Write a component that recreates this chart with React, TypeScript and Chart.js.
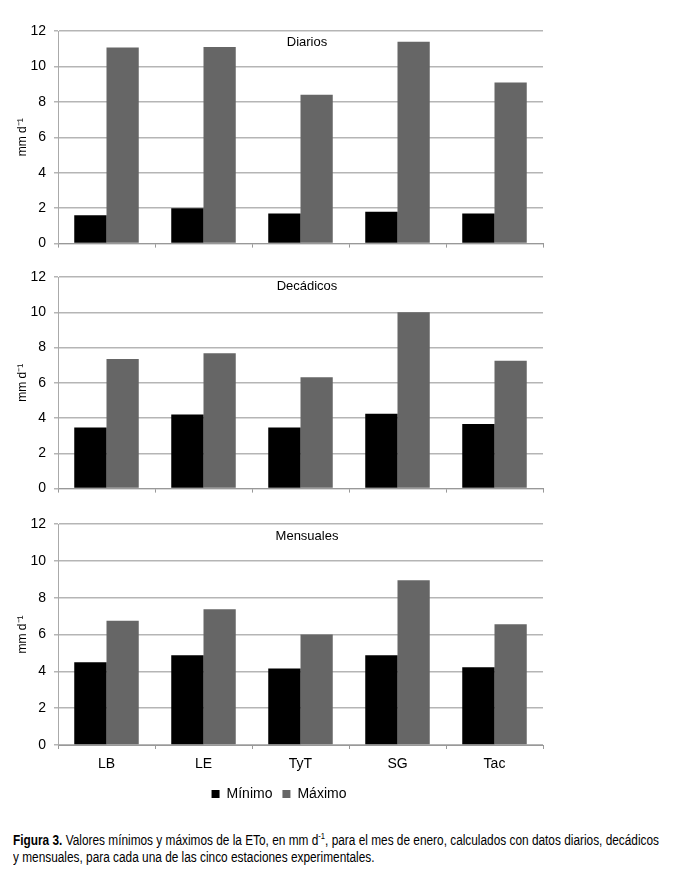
import React, { useEffect, useLayoutEffect, useRef } from 'react';
import { Chart, registerables } from 'chart.js';

Chart.register(...registerables);

const stations = ['LB', 'LE', 'TyT', 'SG', 'Tac'];
const yTickValues = [0, 2, 4, 6, 8, 10, 12];
const seriesNames = ['Mínimo', 'Máximo'];
const seriesColors = ['#000000', '#666666'];

const diariosMin = [1.6, 2.0, 1.7, 1.8, 1.7];
const diariosMax = [11.07, 11.1, 8.4, 11.4, 9.1];
const decadicosMin = [3.47, 4.2, 3.47, 4.25, 3.66];
const decadicosMax = [7.35, 7.68, 6.32, 10.0, 7.25];
const mensualesMin = [4.5, 4.87, 4.15, 4.87, 4.22];
const mensualesMax = [6.75, 7.37, 6.0, 8.95, 6.55];

const panelTitles = ['Diarios', 'Decádicos', 'Mensuales'];

const FONT = "'Liberation Sans', Arial, sans-serif";

const panelTitlePlugin = {
  id: 'panelTitle',
  afterDatasetsDraw(chart: any, _args: any, opts: any) {
    const { ctx, chartArea } = chart;
    ctx.save();
    ctx.font = `13px ${FONT}`;
    ctx.fillStyle = '#000';
    ctx.textAlign = 'center';
    ctx.textBaseline = 'middle';
    ctx.fillText(opts.text, (chartArea.left + chartArea.right) / 2 + 6.5, chartArea.top + opts.dy);
    ctx.restore();
  },
};

type PanelProps = {
  title: string;
  minData: number[];
  maxData: number[];
  top: number;
  height: number;
  padTop: number;
  titleDy: number;
  bottomPanel: boolean;
};

function Panel({ title, minData, maxData, top, height, padTop, titleDy, bottomPanel }: PanelProps) {
  const ref = useRef<HTMLCanvasElement | null>(null);
  useEffect(() => {
    if (!ref.current) return;
    const chart = new Chart(ref.current, {
      type: 'bar',
      data: {
        labels: stations,
        datasets: [
          {
            label: seriesNames[0],
            data: minData,
            backgroundColor: seriesColors[0],
            borderWidth: 0,
            categoryPercentage: 0.665,
            barPercentage: 1,
          },
          {
            label: seriesNames[1],
            data: maxData,
            backgroundColor: seriesColors[1],
            borderWidth: 0,
            categoryPercentage: 0.665,
            barPercentage: 1,
          },
        ],
      },
      options: {
        animation: false,
        responsive: false,
        devicePixelRatio: 1,
        layout: { padding: { left: 15, right: 140, top: padTop, bottom: 0 } },
        plugins: {
          legend: {
            display: bottomPanel,
            position: 'bottom',
            labels: {
              boxWidth: 8,
              boxHeight: 8,
              color: '#000',
              padding: 10,
              font: { family: FONT, size: 14 },
            },
          },
          tooltip: { enabled: false },
          panelTitle: { text: title, dy: titleDy },
        } as any,
        scales: {
          x: {
            grid: {
              display: true,
              drawOnChartArea: false,
              drawTicks: true,
              tickLength: 4,
              color: '#999999',
              offset: true,
            },
            border: { display: true, color: '#999999', width: 1 },
            ticks: {
              display: bottomPanel,
              color: '#000',
              padding: 7,
              font: { family: FONT, size: 14 },
            },
            afterFit: (s: any) => {
              s.height = bottomPanel ? 32 : 13;
            },
          },
          y: {
            min: 0,
            max: 12,
            afterBuildTicks: (s: any) => {
              s.ticks = yTickValues.map((v) => ({ value: v }));
            },
            ticks: {
              color: '#000',
              padding: 8,
              font: { family: FONT, size: 14 },
            },
            grid: {
              color: '#b5b5b5',
              lineWidth: 1.5,
              drawTicks: true,
              tickLength: 4,
            },
            border: { display: true, color: '#aaaaaa', width: 1 },
            title: {
              display: true,
              text: 'mm d\u207B\u00B9',
              color: '#000',
              font: { family: FONT, size: 12 },
              padding: 0,
            },
            afterFit: (s: any) => {
              s.width = 43;
            },
          },
        },
      },
      plugins: [panelTitlePlugin],
    } as any);
    return () => chart.destroy();
  }, [title, minData, maxData, padTop, titleDy, bottomPanel]);

  return (
    <canvas
      ref={ref}
      width={683}
      height={height}
      style={{ position: 'absolute', left: 0, top, width: 683, height, display: 'block' }}
    />
  );
}

function Caption() {
  const line1 = useRef<HTMLDivElement | null>(null);
  const line2 = useRef<HTMLDivElement | null>(null);
  useLayoutEffect(() => {
    if (!line1.current || !line2.current) return;
    const w = line1.current.getBoundingClientRect().width;
    const k = 646 / w;
    line1.current.style.transform = `scaleX(${k})`;
    line2.current.style.transform = `scaleX(${k})`;
  }, []);
  const lineStyle: React.CSSProperties = {
    display: 'inline-block',
    whiteSpace: 'nowrap',
    transformOrigin: '0 0',
  };
  return (
    <div
      style={{
        position: 'absolute',
        left: 13,
        top: 832,
        fontFamily: FONT,
        fontSize: 14,
        lineHeight: '16.5px',
        color: '#000',
      }}
    >
      <div ref={line1} style={lineStyle}>
        <b>Figura 3.</b> Valores mínimos y máximos de la ETo, en mm d
        <sup style={{ fontSize: 9, lineHeight: 0 }}>-1</sup>, para el mes de enero, calculados con datos diarios, decádicos
      </div>
      <br />
      <div ref={line2} style={lineStyle}>
        y mensuales, para cada una de las cinco estaciones experimentales.
      </div>
    </div>
  );
}

export default function App() {
  return (
    <div
      style={{
        position: 'absolute',
        left: 0,
        top: 0,
        width: 683,
        height: 882,
        background: '#fff',
        overflow: 'hidden',
      }}
    >
      <Panel title={panelTitles[0]} minData={diariosMin} maxData={diariosMax} top={0} height={260} padTop={31} titleDy={11} bottomPanel={false} />
      <Panel title={panelTitles[1]} minData={decadicosMin} maxData={decadicosMax} top={260} height={245} padTop={17} titleDy={9} bottomPanel={false} />
      <Panel title={panelTitles[2]} minData={mensualesMin} maxData={mensualesMax} top={505} height={306} padTop={19} titleDy={12} bottomPanel={true} />
      <Caption />
    </div>
  );
}
